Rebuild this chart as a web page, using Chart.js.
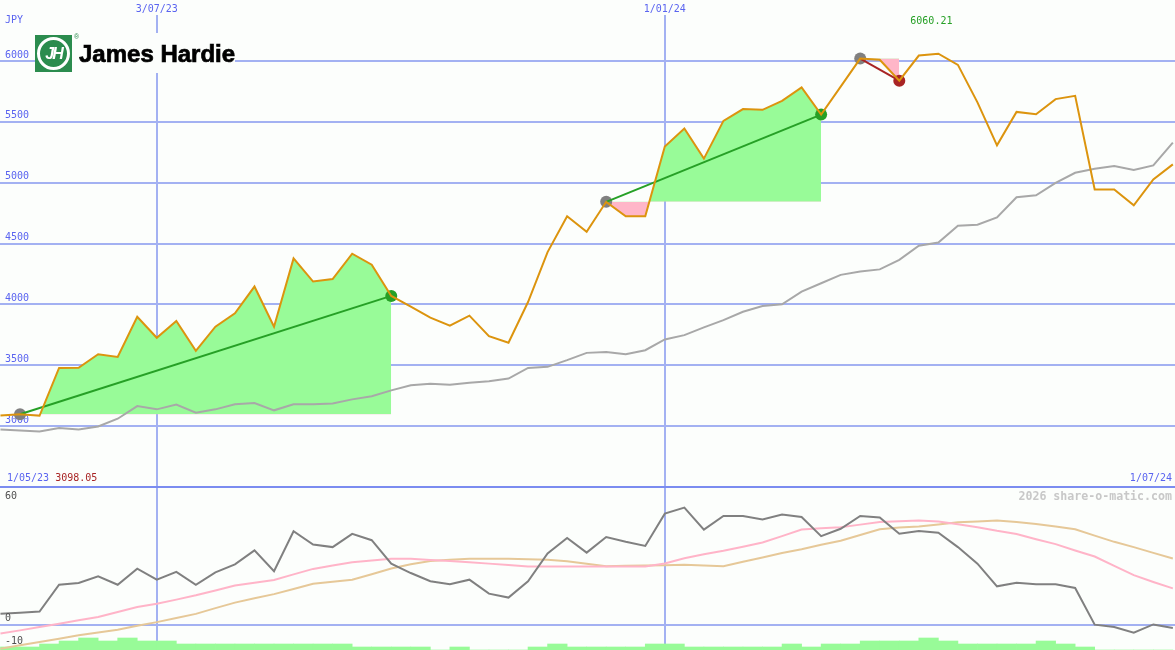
<!DOCTYPE html>
<html>
<head>
<meta charset="utf-8">
<title>James Hardie</title>
<script src="https://cdn.jsdelivr.net/npm/chart.js@4.4.1/dist/chart.umd.min.js"></script>
<style>
  body { margin: 0; background: #fcfefc; }
  #wrap { position: relative; width: 1175px; height: 650px; overflow: hidden; background: #fcfefc; }
  canvas { position: absolute; left: 0; }
  #priceChart { top: 0; }
  #oscChart { top: 487px; }
  #divider { position: absolute; left: 0; top: 486px; width: 1175px; height: 2px; background: #7b8cf0; }
  #logo { position: absolute; left: 35px; top: 33px; width: 200px; height: 40px; background: #fcfefc; }
  #logo .mark { position: absolute; left: 0; top: 2px; width: 37px; height: 37px; background: #2b8c4e; }
  #logo .ring { position: absolute; left: 2px; top: 2px; width: 27px; height: 27px; border: 3px solid #fff;
    border-radius: 50%; color: #fff; font: italic bold 16px/27px "Liberation Sans", sans-serif;
    text-align: center; letter-spacing: -2px; }
  #logo .reg { position: absolute; left: 39px; top: 0; font: 7px "Liberation Sans", sans-serif; color: #2b8c4e; }
  #logo .name { position: absolute; left: 44px; top: 9px; font: bold 24px/24px "Liberation Sans", sans-serif;
    color: #000; white-space: nowrap; -webkit-text-stroke: 0.7px #000; }
</style>
</head>
<body>
<div id="wrap">
  <canvas id="priceChart" width="1175" height="487"></canvas>
  <canvas id="oscChart" width="1175" height="163"></canvas>
  <div id="divider"></div>
  <div id="logo">
    <div class="mark"><div class="ring">JH</div></div>
    <span class="reg">&reg;</span>
    <span class="name">James Hardie</span>
  </div>
</div>
<script>
// weekly points, week 0 = the first marked low
const weeks = [-1, 0, 1, 2, 3, 4, 5, 6, 7, 8, 9, 10, 11, 12, 13, 14, 15, 16, 17, 18, 19, 20,
  21, 22, 23, 24, 25, 26, 27, 28, 29, 30, 31, 32, 33, 34, 35, 36, 37, 38, 39, 40,
  41, 42, 43, 44, 45, 46, 47, 48, 49, 50, 51, 52, 53, 54, 55, 56, 57, 58, 59];

// closing price (JPY)
const price = [3088, 3098.05, 3085, 3478, 3480, 3591, 3569, 3899, 3726, 3864, 3619, 3817, 3927, 4147, 3817, 4378,
  4188, 4208, 4417, 4326, 4070, 3982, 3891, 3825, 3908, 3740, 3685, 4020, 4430, 4724, 4596, 4843,
  4724, 4724, 5297, 5445, 5198, 5508, 5605, 5599, 5673, 5783, 5560, 5790, 6020, 6010, 5838, 6045,
  6060.21, 5968, 5660, 5307, 5582, 5563, 5687, 5714, 4945, 4945, 4815, 5027, 5151];

// grey moving average
const avg = [2973, 2965, 2956, 2984, 2973, 2997, 3061, 3165, 3138, 3177, 3111, 3138, 3179, 3190, 3130, 3179,
  3179, 3187, 3220, 3245, 3294, 3336, 3348, 3340, 3356, 3369, 3391, 3478, 3487, 3542, 3602, 3610,
  3591, 3624, 3712, 3748, 3811, 3871, 3940, 3987, 4001, 4105, 4174, 4243, 4270, 4288, 4366, 4482,
  4509, 4647, 4655, 4715, 4880, 4897, 4999, 5082, 5115, 5137, 5104, 5142, 5329];

// lower panel
const osc = [4.8, 5.2, 5.7, 17.4, 18.2, 21.1, 17.4, 24.4, 19.6, 23.0, 17.4, 22.8, 26.3, 32.4, 23.3, 40.7,
  34.9, 33.8, 39.6, 36.8, 26.6, 22.5, 18.9, 17.6, 19.6, 13.5, 11.8, 18.9, 31.0, 37.8, 31.4, 38.2,
  36.1, 34.3, 48.4, 51.0, 41.4, 47.4, 47.4, 45.8, 48.0, 46.9, 38.6, 41.8, 47.4, 46.7, 39.6, 40.8,
  40.1, 33.8, 26.6, 16.7, 18.3, 17.6, 17.6, 16.0, 0.0, -1.0, -3.5, 0.1, -1.5];
const oscFast = [-3.9, -2.5, -1.0, 0.4, 1.9, 3.3, 5.5, 7.7, 9.1, 10.9, 12.8, 14.9, 17.1, 18.3, 19.5, 21.9,
  24.3, 25.8, 27.2, 28.0, 28.7, 28.7, 28.2, 27.7, 27.2, 26.6, 26.0, 25.4, 25.4, 25.4, 25.4, 25.4,
  25.4, 25.4, 26.7, 28.9, 30.7, 32.2, 34.0, 35.8, 38.6, 41.5, 42.0, 42.5, 43.6, 44.7, 45.1, 45.4,
  45.0, 43.8, 42.5, 40.9, 39.5, 37.2, 35.1, 32.3, 29.7, 25.6, 21.6, 18.6, 15.8];
const oscSlow = [-10.5, -9.0, -7.6, -6.1, -4.6, -3.4, -2.2, -0.5, 1.1, 2.9, 4.7, 7.2, 9.6, 11.5, 13.3, 15.5,
  17.8, 18.7, 19.6, 22.0, 24.5, 26.3, 27.7, 28.3, 28.7, 28.7, 28.7, 28.5, 28.3, 27.6, 26.5, 25.5,
  25.7, 25.8, 25.9, 26.1, 25.8, 25.5, 27.4, 29.3, 31.2, 32.9, 34.8, 36.6, 39.1, 41.6, 42.3, 42.8,
  43.7, 44.6, 45.0, 45.4, 44.7, 43.9, 42.8, 41.6, 38.8, 36.1, 33.8, 31.3, 28.8];
// green blocks, one per week interval (week -1 .. 58)
const barLevels = [1, 1, 2, 3, 4, 3, 4, 3, 3, 2, 2, 2, 2, 2, 2, 2, 2, 2, 1, 1, 1, 1, 0, 1, 0, 0, 0, 1, 2, 1,
  1, 1, 1, 2, 2, 1, 1, 1, 1, 1, 2, 1, 2, 2, 3, 3, 3, 4, 3, 2, 2, 2, 2, 3, 2, 1, 0, 0, 0, 0];

// marked runs: start week -> end week
const runStart = [0, 30, 43];
const runEnd = [19, 41, 45];

const xTickWeeks = [7, 33];
const xTickLabels = ['3/07/23', '1/01/24'];
const yTicks = [3000, 3500, 4000, 4500, 5000, 5500, 6000];
const oscTicks = [60, 0, -10];
const oscGrid = [0];
const currency = 'JPY';
const startDate = '1/05/23';
const endDate = '1/07/24';
const lowPrice = 3098.05;
const highPrice = 6060.21;

const BLUE = '#5a64f0';
const GRID = '#a3b1f2';
const FILL_UP = '#98fb98';
const FILL_DOWN = '#ffb6c8';
const UP = '#26a026';
const DOWN = '#a82424';
const MONO = '"DejaVu Sans Mono", monospace';

const at = w => price[weeks.indexOf(w)];
const points = vals => weeks.map((w, i) => ({ x: w, y: vals[i] }));
const segment = (a, b) => points(price).filter(p => p.x >= a && p.x <= b);

const fillSets = runStart.map((s, j) => ({
  data: segment(s, runEnd[j]),
  borderColor: 'rgba(0,0,0,0)',
  borderWidth: 0,
  fill: { target: { value: at(s) }, above: FILL_UP, below: FILL_DOWN },
  order: 6,
}));

const trendSets = runStart.map((s, j) => ({
  data: [{ x: s, y: at(s) }, { x: runEnd[j], y: at(runEnd[j]) }],
  borderColor: at(runEnd[j]) >= at(s) ? UP : DOWN,
  borderWidth: 2,
  order: 3,
}));

const xRange = { type: 'linear', min: -1.0235, max: 59.11, offset: false };

// keep the plot area flush with the canvas edges
const flatX = h => s => { s.height = h; s.paddingLeft = 0; s.paddingRight = 0; };
const flatY = s => { s.width = 0; s.paddingTop = 0; s.paddingBottom = 0; };

const priceText = {
  id: 'priceText',
  afterDraw(chart) {
    const { ctx } = chart;
    const x = chart.scales.x;
    const highWeek = weeks[price.indexOf(highPrice)];
    ctx.save();
    ctx.font = '10px ' + MONO;
    ctx.textBaseline = 'middle';
    ctx.textAlign = 'left';
    ctx.fillStyle = BLUE;
    ctx.fillText(currency, 5, 20.5);
    ctx.fillText(startDate, 7, 478.5);
    ctx.fillStyle = DOWN;
    ctx.fillText(lowPrice.toFixed(2), 7 + ctx.measureText(startDate + ' ').width, 478.5);
    ctx.textAlign = 'right';
    ctx.fillStyle = BLUE;
    ctx.fillText(endDate, 1172, 478.5);
    ctx.textAlign = 'center';
    ctx.fillStyle = UP;
    ctx.fillText(highPrice.toFixed(2), x.getPixelForValue(highWeek) - 7, 21);
    ctx.restore();
  }
};

new Chart(document.getElementById('priceChart'), {
  type: 'line',
  data: {
    datasets: [
      ...fillSets,
      { data: points(avg), borderColor: '#a8a8a8', borderWidth: 2, order: 5 },
      {
        data: runStart.map(w => ({ x: w, y: at(w) })),
        showLine: false, pointRadius: 6, pointBorderWidth: 0,
        pointBackgroundColor: '#808080', order: 4,
      },
      {
        data: runEnd.map(w => ({ x: w, y: at(w) })),
        showLine: false, pointRadius: 6, pointBorderWidth: 0,
        pointBackgroundColor: runEnd.map((w, j) => at(w) >= at(runStart[j]) ? UP : DOWN), order: 4,
      },
      ...trendSets,
      { data: points(price), borderColor: '#dc940e', borderWidth: 2, order: 2 },
    ],
  },
  options: {
    animation: false,
    responsive: false,
    devicePixelRatio: 1,
    layout: { padding: 0, autoPadding: false },
    elements: { line: { tension: 0 }, point: { radius: 0 } },
    plugins: { legend: { display: false }, tooltip: { enabled: false } },
    scales: {
      x: {
        ...xRange,
        position: 'top',
        afterBuildTicks: s => { s.ticks = xTickWeeks.map(v => ({ value: v })); },
        afterFit: flatX(15),
        ticks: {
          callback: v => xTickLabels[xTickWeeks.indexOf(v)],
          color: BLUE, font: { family: MONO, size: 10 }, padding: 0,
          maxRotation: 0, autoSkip: false,
        },
        grid: { color: GRID, lineWidth: 2, drawTicks: false },
        border: { display: false },
      },
      y: {
        min: 2500, max: 6378,
        afterBuildTicks: s => { s.ticks = yTicks.map(v => ({ value: v })); },
        afterFit: flatY,
        ticks: {
          callback: v => String(v),
          mirror: true, padding: 5, labelOffset: -6, color: BLUE, font: { family: MONO, size: 10 },
        },
        grid: { color: GRID, lineWidth: 2, drawTicks: false },
        border: { display: false },
      },
    },
  },
  plugins: [priceText],
});

const oscText = {
  id: 'oscText',
  afterDraw(chart) {
    const { ctx } = chart;
    const y = chart.scales.y;
    ctx.save();
    ctx.font = '10px ' + MONO;
    ctx.textBaseline = 'middle';
    ctx.textAlign = 'left';
    ctx.fillStyle = '#505050';
    oscTicks.forEach(v => ctx.fillText(String(v), 5, Math.max(y.getPixelForValue(v) - 6, 9.5)));
    ctx.font = 'bold 11.6px ' + MONO;
    ctx.textAlign = 'right';
    ctx.fillStyle = '#c8c8c8';
    ctx.fillText('2026 share-o-matic.com', 1172, 9.5);
    ctx.restore();
  }
};

new Chart(document.getElementById('oscChart'), {
  type: 'line',
  data: {
    datasets: [
      {
        type: 'bar', yAxisID: 'yb',
        data: barLevels.map((v, i) => ({ x: weeks[i] + 0.5, y: v })),
        backgroundColor: FILL_UP, borderWidth: 0,
        barPercentage: 1, categoryPercentage: 1, order: 5,
      },
      { data: points(oscSlow), borderColor: '#e6c898', borderWidth: 2, order: 3 },
      { data: points(oscFast), borderColor: '#ffb4c8', borderWidth: 2, order: 2 },
      { data: points(osc), borderColor: '#808080', borderWidth: 2, order: 1 },
    ],
  },
  options: {
    animation: false,
    responsive: false,
    devicePixelRatio: 1,
    layout: { padding: 0, autoPadding: false },
    elements: { line: { tension: 0 }, point: { radius: 0 } },
    plugins: { legend: { display: false }, tooltip: { enabled: false } },
    scales: {
      x: {
        ...xRange,
        position: 'bottom',
        afterBuildTicks: s => { s.ticks = xTickWeeks.map(v => ({ value: v })); },
        afterFit: flatX(0),
        ticks: { display: false },
        grid: { color: GRID, lineWidth: 2, drawTicks: false, offset: false },
        border: { display: false },
      },
      y: {
        min: -11.05, max: 60,
        afterBuildTicks: s => { s.ticks = oscGrid.map(v => ({ value: v })); },
        afterFit: flatY,
        ticks: { display: false },
        grid: { color: GRID, lineWidth: 2, drawTicks: false },
        border: { display: false },
      },
      yb: { display: false, min: 0, max: 54.33 },
    },
  },
  plugins: [oscText],
});
</script>
</body>
</html>
